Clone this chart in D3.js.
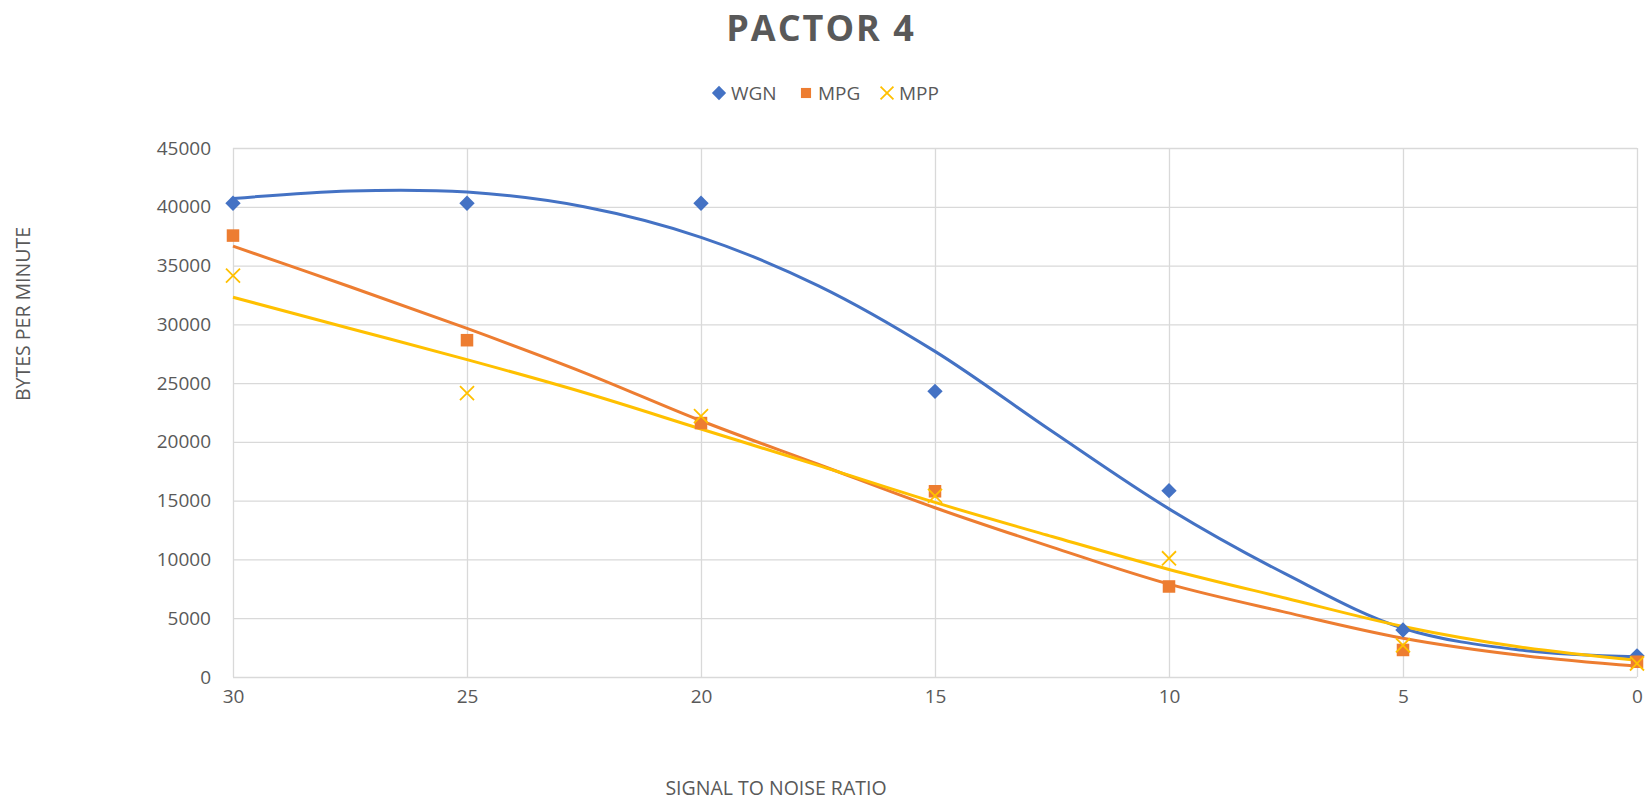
<!DOCTYPE html>
<html lang="en">
<head>
  <meta charset="UTF-8">
  <title>PACTOR 4</title>
  <script src="https://d3js.org/d3.v7.min.js"></script>
  <style>
    body {
      margin: 0;
      padding: 0;
      background: #fff;
      font-family: 'Open Sans', 'Noto Sans', sans-serif;
      overflow: hidden;
    }
    .grid line { stroke: #d9d9d9; stroke-width: 1.3px; }
    .grid path { display: none; }
    .tick-lbl text { fill: #595959; font-size: 19px; font-family: 'Open Sans', sans-serif; }
    .trend { fill: none; stroke-width: 3px; }
  </style>
</head>
<body>
  <svg id="chart" width="1646" height="800"></svg>

  <script>
    // measured points (signal to noise ratio vs bytes per minute)
    const snr = [30, 25, 20, 15, 10, 5, 0];
    const wgn = [40300, 40300, 40300, 24300, 15850, 4000, 1800];
    const mpg = [37550, 28650, 21600, 15800, 7700, 2300, 1300];
    const mpp = [34150, 24150, 22200, 15400, 10100, 2700, 1150];

    // trend lines, every 2.5 dB
    const trendX = [30, 27.5, 25, 22.5, 20, 17.5, 15, 12.5, 10, 7.5, 5, 2.5, 0];
    const wgnTrend = [40700, 41350, 41250, 40000, 37400, 33300, 27700, 20900, 14300, 8750, 4150, 2300, 1720];
    const mpgTrend = [36650, 33200, 29650, 25900, 21800, 18100, 14400, 11050, 7900, 5500, 3300, 1850, 930];
    const mppTrend = [32300, 29650, 27000, 24200, 21100, 18000, 14850, 11950, 9150, 6700, 4300, 2550, 1420];

    const xTicks = [30, 25, 20, 15, 10, 5, 0];
    const yTicks = [0, 5000, 10000, 15000, 20000, 25000, 30000, 35000, 40000, 45000];

    const series = [
      { name: "WGN", values: wgn, trend: wgnTrend, color: "#4472c4", symbol: d3.symbolDiamond2 },
      { name: "MPG", values: mpg, trend: mpgTrend, color: "#ed7d31", symbol: d3.symbolSquare2 },
      { name: "MPP", values: mpp, trend: mppTrend, color: "#ffc000", symbol: d3.symbolX }
    ];

    const svg = d3.select("#chart");
    const plot = { left: 233, right: 1637, top: 148, bottom: 677 };

    const x = d3.scaleLinear().domain([30, 0]).range([plot.left, plot.right]);
    const y = d3.scaleLinear().domain([0, 45000]).range([plot.bottom, plot.top]);

    // gridlines
    svg.append("g")
      .attr("class", "grid")
      .attr("transform", `translate(0,${plot.bottom})`)
      .call(d3.axisBottom(x).tickValues(xTicks).tickSize(-(plot.bottom - plot.top)).tickFormat(""));
    svg.append("g")
      .attr("class", "grid")
      .attr("transform", `translate(${plot.left},0)`)
      .call(d3.axisLeft(y).tickValues(yTicks).tickSize(-(plot.right - plot.left)).tickFormat(""));

    // tick labels
    const xAxis = svg.append("g")
      .attr("class", "tick-lbl")
      .attr("transform", `translate(0,${plot.bottom + 8})`)
      .call(d3.axisBottom(x).tickValues(xTicks).tickSize(0).tickPadding(4).tickFormat(d3.format("d")));
    xAxis.select(".domain").remove();

    const yAxis = svg.append("g")
      .attr("class", "tick-lbl")
      .attr("transform", `translate(${plot.left - 22},0)`)
      .call(d3.axisLeft(y).tickValues(yTicks).tickSize(0).tickPadding(0).tickFormat(d3.format("d")));
    yAxis.select(".domain").remove();

    // trend lines
    const line = d3.line()
      .x((d, i) => x(trendX[i]))
      .y(d => y(d))
      .curve(d3.curveCatmullRom.alpha(0.5));

    series.forEach(s => {
      svg.append("path")
        .attr("class", "trend")
        .datum(s.trend)
        .attr("stroke", s.color)
        .attr("d", line);
    });

    // markers
    series.forEach(s => {
      const isX = s.symbol === d3.symbolX;
      svg.append("g").selectAll("path")
        .data(s.values)
        .join("path")
        .attr("transform", (d, i) => `translate(${x(snr[i])},${y(d)})`)
        .attr("d", d3.symbol().type(s.symbol).size(isX ? 130 : s.symbol === d3.symbolDiamond2 ? 150 : 200))
        .attr("fill", isX ? "none" : s.color)
        .attr("stroke", s.color)
        .attr("stroke-width", isX ? 1.8 : 0);
    });

    // title
    svg.append("text")
      .attr("x", 821)
      .attr("y", 41)
      .attr("text-anchor", "middle")
      .style("font-size", "36px")
      .style("font-weight", "bold")
      .style("letter-spacing", "2px")
      .style("fill", "#595959")
      .text("PACTOR 4");

    // legend
    const legendX = [719, 806, 887];
    series.forEach((s, i) => {
      const g = svg.append("g").attr("transform", `translate(${legendX[i]},93)`);
      const isX = s.symbol === d3.symbolX;
      g.append("path")
        .attr("d", d3.symbol().type(s.symbol).size(isX ? 110 : 130))
        .attr("fill", isX ? "none" : s.color)
        .attr("stroke", s.color)
        .attr("stroke-width", isX ? 1.8 : 0);
      g.append("text")
        .attr("x", 12)
        .attr("y", 7)
        .style("font-size", "19px")
        .style("fill", "#595959")
        .text(s.name);
    });

    // axis titles
    svg.append("text")
      .attr("x", 776)
      .attr("y", 795)
      .attr("text-anchor", "middle")
      .style("font-size", "19.5px")
      .style("fill", "#595959")
      .text("SIGNAL TO NOISE RATIO");

    svg.append("text")
      .attr("transform", "translate(30,314) rotate(-90)")
      .attr("text-anchor", "middle")
      .style("font-size", "19.5px")
      .style("fill", "#595959")
      .text("BYTES PER MINUTE");
  </script>
</body>
</html>
